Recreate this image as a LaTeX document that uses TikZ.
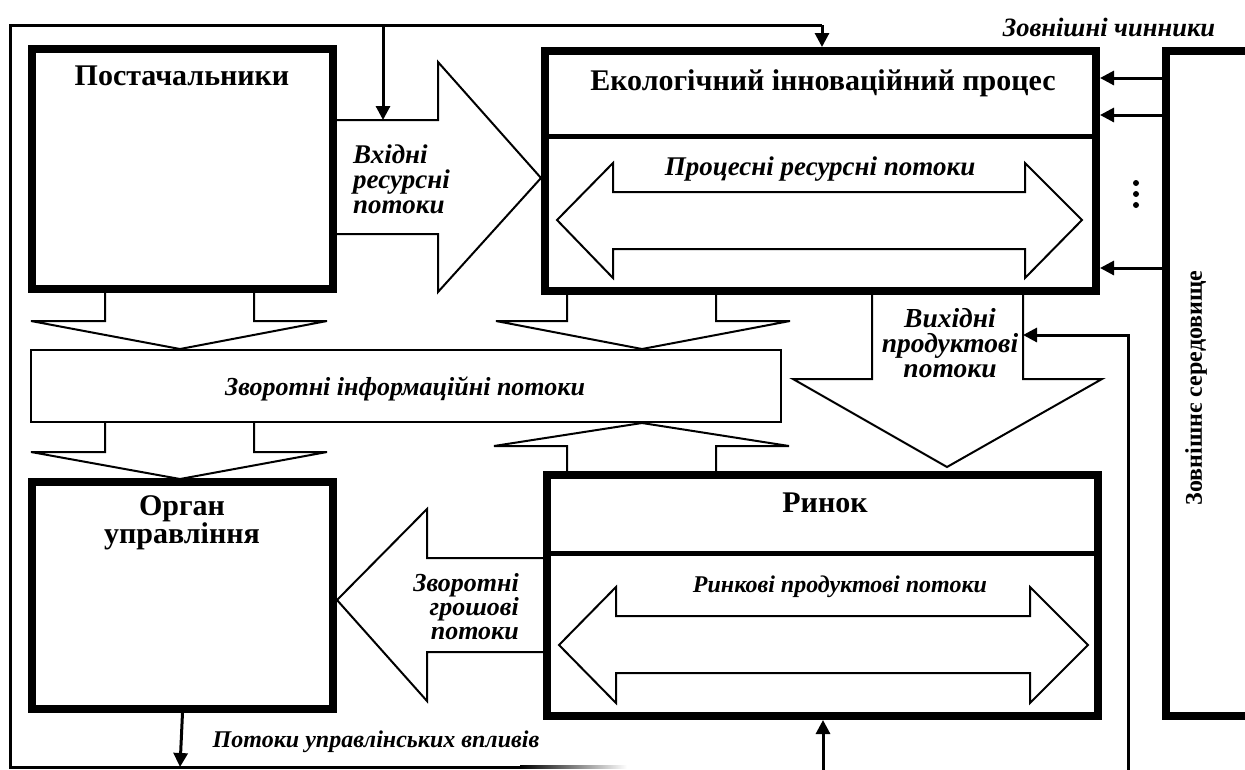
\documentclass[tikz,border=0pt]{standalone}
\usepackage{fontspec}
\setmainfont{Liberation Serif}
\usetikzlibrary{arrows.meta,calc}
\tikzset{
  bigbox/.style={draw, line width=8pt, rectangle, inner sep=0pt, fill=white},
  infobox/.style={draw, line width=2pt, rectangle, inner sep=0pt, fill=white},
  fat/.style={draw, line width=2pt, fill=white, line join=miter},
  divider/.style={line width=5pt},
  thin/.style={line width=3pt},
  thinarrow/.style={line width=3pt, -{Triangle[length=14pt,width=14pt]}},
  ttl/.style={font=\fontsize{30}{28}\selectfont\bfseries, inner sep=0pt},
  lbl/.style={font=\fontsize{26}{24}\selectfont\bfseries\itshape, inner sep=0pt},
}
\begin{document}
\begin{tikzpicture}[x=1pt,y=-1pt]
\useasboundingbox (0,0) rectangle (1245,769);
\clip (0,0) rectangle (1245,769);
\fill[white] (0,0) rectangle (1245,769);

% ---------- fat arrows (shapes) ----------
% input resource flows
\draw[fat] (337,120) -- (438,120) -- (438,62) -- (541,178) -- (438,292) -- (438,234) -- (337,234);
% suppliers -> info
\draw[fat] (105,293) -- (105,321) -- (31,321) -- (180,349) -- (327,321) -- (254,321) -- (254,293);
% eco -> info
\draw[fat] (567,295) -- (567,321) -- (496,321) -- (642,349) -- (790,321) -- (716,321) -- (716,295);
% info -> organ
\draw[fat] (105,423) -- (105,452) -- (31,452) -- (180,479) -- (327,452) -- (254,452) -- (254,423);
% market -> info
\draw[fat] (567,471) -- (567,446) -- (494,446) -- (642,423) -- (789,446) -- (716,446) -- (716,471);
% output product flows
\draw[fat] (872,295) -- (872,379) -- (793,379) -- (947,467) -- (1102,379) -- (1023,379) -- (1023,295);
% reverse money flows
\draw[fat] (543,558) -- (427,558) -- (427,509) -- (337,600) -- (427,701) -- (427,652) -- (543,652);

% ---------- boxes ----------
\node[bigbox, minimum width=301pt, minimum height=240pt] (post) at (182.5,169) {};
\node[bigbox, minimum width=551pt, minimum height=240pt] (eco) at (820.5,171) {};
\node[bigbox, minimum width=551pt, minimum height=241pt] (ryn) at (822.5,595.5) {};
\node[bigbox, minimum width=301pt, minimum height=227pt] (org) at (182.5,595.5) {};
\node[bigbox, minimum width=110pt, minimum height=665pt] (env) at (1221,383.5) {};
\node[infobox, minimum width=750pt, minimum height=72pt] (info) at (406,386) {};

% dividers
\draw[divider] (eco.west |- 0,136) -- (1092,136);
\draw[divider] (ryn.west |- 0,553) -- (1094,553);

% double arrows inside boxes
\draw[fat] (557,220) -- (613,163) -- (613,192) -- (1025,192) -- (1025,163) -- (1082,220)
  -- (1025,278) -- (1025,249) -- (613,249) -- (613,278) -- cycle;
\draw[fat] (559,645) -- (616,587) -- (616,616) -- (1030,616) -- (1030,587) -- (1088,645)
  -- (1030,703) -- (1030,673) -- (616,673) -- (616,703) -- cycle;

% ---------- texts ----------
\node[ttl] (postT) at (182,76) {Постачальники};
\node[ttl] (ecoT) at (823,83) {Екологічний інноваційний процес};
\node[lbl, font=\fontsize{27}{25}\selectfont\bfseries\itshape] (procT) at (820,169) {Процесні ресурсні потоки};
\node[lbl, font=\fontsize{27}{25}\selectfont\bfseries\itshape, align=left, anchor=west] (inT) at (353,179) {Вхідні\\ресурсні\\потоки};
\node[lbl, font=\fontsize{26.5}{25}\selectfont\bfseries\itshape] (extT) at (1109,27) {Зовнішні чинники};
\node[lbl, font=\fontsize{26}{25}\selectfont\bfseries\itshape] (infoT) at (405,389) {Зворотні інформаційні потоки};
\node[ttl] (rynT) at (825,503) {Ринок};
\node[lbl, font=\fontsize{24}{24}\selectfont\bfseries\itshape] (mktT) at (840,587) {Ринкові продуктові потоки};
\node[lbl, font=\fontsize{27.5}{25}\selectfont\bfseries\itshape, align=center] (outT) at (950,343) {Вихідні\\продуктові\\потоки};
\node[ttl, align=center] (orgT) at (182,523) {Орган\\управління};
\node[lbl, font=\fontsize{26}{24}\selectfont\bfseries\itshape, align=right, anchor=east] (monT) at (519,607) {Зворотні\\грошові\\потоки};
\node[lbl, font=\fontsize{24}{24}\selectfont\bfseries\itshape] (ctlT) at (376,742) {Потоки управлінських впливів};
\node[ttl, font=\fontsize{24}{24}\selectfont\bfseries, rotate=90] (envT) at (1196,388) {Зовнішнє середовище};

% dots
\fill (1136,183) circle (3pt);
\fill (1136,194) circle (3pt);
\fill (1136,205) circle (3pt);

% ---------- thin connectors ----------
\coordinate (cB) at (180,767);
\coordinate (bL) at (10,767);
\coordinate (tL) at (10,25);
\coordinate (tR) at (822,25);
\coordinate (tM) at (383,25);
\coordinate (inTop) at (383,120);
\coordinate (bR) at (520,767);
\coordinate (bF) at (627,767);
\coordinate (mB) at (823,775);
\coordinate (rB) at (1128,775);
\coordinate (rT) at (1128,335);
\coordinate (outR) at (1023,335);
\coordinate (e1) at (0,78);
\coordinate (e2) at (0,115);
\coordinate (e3) at (0,268);

\draw[thin, line join=miter] (bR) -- (bL) -- (tL) -- (tR);
\shade[left color=black, right color=white] ($(bR)+(0,-1.5)$) rectangle ($(bF)+(0,1.5)$);
\draw[thinarrow] (tR) -- (eco.north -| tR);
\draw[thinarrow] (tM) -- (inTop);
\draw[thinarrow] (org.south) -- (cB);
\draw[thinarrow] (mB) -- (ryn.south -| mB);
\draw[thinarrow, line join=miter] (rB) -- (rT) -- (outR);
\draw[thinarrow] (env.west |- e1) -- (eco.east |- e1);
\draw[thinarrow] (env.west |- e2) -- (eco.east |- e2);
\draw[thinarrow] (env.west |- e3) -- (eco.east |- e3);
\end{tikzpicture}
\end{document}
